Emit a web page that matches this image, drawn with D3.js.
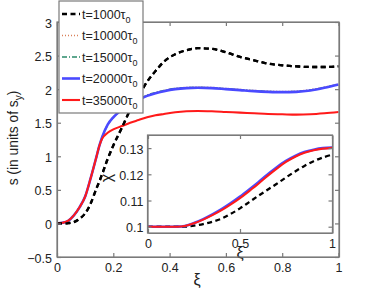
<!DOCTYPE html>
<html><head><meta charset="utf-8">
<script src="https://cdn.jsdelivr.net/npm/d3@7"></script>
<style>
body{margin:0;background:#fff;}
text{font-family:"Liberation Sans",Arial,sans-serif;fill:#222;}
</style></head>
<body><svg id="c" width="374" height="290"></svg>
<script>
// ---- main plot data ----
const xi = [0,0.02,0.04,0.06,0.08,0.1,0.12,0.14,0.15,0.16,0.18,0.2,0.23,0.26,0.29,0.32,0.35,0.38,0.42,0.46,0.5,0.55,0.6,0.65,0.7,0.75,0.8,0.85,0.9,0.95,1];
const s1000  = [0,0,0.005,0.02,0.07,0.15,0.3,0.52,0.62,0.73,0.96,1.16,1.42,1.69,1.9,2.11,2.27,2.41,2.52,2.58,2.61,2.6,2.55,2.48,2.43,2.38,2.355,2.34,2.33,2.33,2.34];
const s10000 = [0,0.01,0.04,0.12,0.24,0.4,0.68,0.99,1.15,1.28,1.47,1.58,1.69,1.78,1.85,1.91,1.95,1.98,2.01,2.025,2.03,2.025,2.01,1.995,1.98,1.97,1.965,1.97,1.99,2.03,2.075];
const s15000 = [0,0.01,0.04,0.12,0.24,0.4,0.68,0.99,1.15,1.28,1.47,1.58,1.69,1.78,1.85,1.91,1.95,1.98,2.01,2.02,2.025,2.02,2.005,1.99,1.975,1.965,1.96,1.965,1.985,2.025,2.07];
const s20000 = [0,0.01,0.04,0.12,0.24,0.4,0.68,0.99,1.15,1.28,1.47,1.58,1.69,1.77,1.84,1.9,1.94,1.97,2.0,2.015,2.02,2.015,2.0,1.985,1.97,1.96,1.955,1.96,1.98,2.02,2.07];
const s35000 = [0,0.01,0.04,0.12,0.24,0.4,0.68,0.99,1.15,1.26,1.35,1.4,1.45,1.5,1.54,1.58,1.61,1.63,1.655,1.67,1.675,1.67,1.66,1.65,1.64,1.63,1.625,1.62,1.625,1.64,1.66];
const xTicks = [0,0.2,0.4,0.6,0.8,1];
const yTicks = [-0.5,0,0.5,1,1.5,2,2.5,3];
const legendLabels = ["t=1000","t=10000","t=15000","t=20000","t=35000"];

// ---- inset data ----
const xiIn = [0,0.1,0.15,0.2,0.25,0.3,0.35,0.4,0.45,0.5,0.55,0.6,0.65,0.7,0.75,0.8,0.85,0.9,0.95,1];
const chi1000  = [0.1,0.1,0.1,0.1,0.1004,0.101,0.1019,0.1031,0.1049,0.107,0.1094,0.1118,0.1141,0.1164,0.1188,0.1211,0.1232,0.125,0.1264,0.1275];
const chi20000 = [0.1,0.1,0.1,0.1003,0.1014,0.1029,0.1047,0.1067,0.109,0.1115,0.1142,0.117,0.1199,0.1227,0.1251,0.127,0.1285,0.1294,0.13,0.1302];
const chi35000 = [0.1,0.1,0.1,0.1003,0.1013,0.1027,0.1044,0.1063,0.1085,0.1109,0.1136,0.1164,0.1194,0.1222,0.1247,0.1267,0.1282,0.1292,0.1298,0.1301];
const xTicksIn = [0,0.5,1];
const yTicksIn = [0.1,0.11,0.12,0.13];

const svg = d3.select("#c");
const axisCol = "#7a7a7a";
const fmt = v => (v<0?"\u2212":"") + String(Math.abs(v));

// main plot
const L=57,R=339,T=22,B=257;
const x = d3.scaleLinear().domain([0,1]).range([L,R-0.5]);
const y = d3.scaleLinear().domain([-0.5,3]).range([B,T]);

const styles = [
  {data:s10000, col:"#d9805a", w:1.6, dash:"1,2"},
  {data:s15000, col:"#2a8a6a", w:1.6, dash:"5,2,1,2"},
  {data:s1000,  col:"#000",    w:2.3, dash:"5,3.5"},
  {data:s20000, col:"#4a4aff", w:2.6, dash:null},
  {data:s35000, col:"#ff1a1a", w:2.1, dash:null}
];
const line = d3.line().x(d=>x(d[0])).y(d=>y(d[1])).curve(d3.curveMonotoneX);

svg.append("rect").attr("x",L).attr("y",T).attr("width",R-L).attr("height",B-T).attr("fill","#fff");
[styles[2],styles[0],styles[1],styles[3],styles[4]].forEach(s=>{
  svg.append("path").attr("d",line(xi.map((v,i)=>[v,s.data[i]])))
    .attr("fill","none").attr("stroke",s.col).attr("stroke-width",s.w)
    .attr("stroke-dasharray",s.dash);
});
svg.append("path").attr("d",line(xi.map((v,i)=>[v,s1000[i]])))
  .attr("fill","none").attr("stroke","#000").attr("stroke-width",2.3).attr("stroke-dasharray","5,3.5");

// main axes
const gx = svg.append("g").attr("transform",`translate(0,${B})`)
  .call(d3.axisBottom(x).tickValues(xTicks).tickFormat(fmt).tickSizeInner(-4).tickSizeOuter(0).tickPadding(6));
const gxt = svg.append("g").attr("transform",`translate(0,${T})`)
  .call(d3.axisTop(x).tickValues(xTicks).tickFormat("").tickSizeInner(-4).tickSizeOuter(0));
const gy = svg.append("g").attr("transform",`translate(${L},0)`)
  .call(d3.axisLeft(y).tickValues(yTicks).tickFormat(fmt).tickSizeInner(-4).tickSizeOuter(0).tickPadding(5));
const gyr = svg.append("g").attr("transform",`translate(${R},0)`)
  .call(d3.axisRight(y).tickValues(yTicks).tickFormat("").tickSizeInner(-4).tickSizeOuter(0));
[gx,gxt,gy,gyr].forEach(g=>{
  g.selectAll("path,line").attr("stroke",axisCol).attr("stroke-width",1.2);
  g.selectAll("text").attr("font-size",12.5).attr("fill","#222").attr("font-family","Liberation Sans, Arial");
});
gy.selectAll("text").attr("dy","0.4em");

// main axis labels
svg.append("text").attr("x",197).attr("y",285).attr("text-anchor","middle").attr("font-size",16).text("\u03be");
const yl = svg.append("text").attr("transform","translate(17.5,138) rotate(-90)").attr("text-anchor","middle").attr("font-size",13.8);
yl.append("tspan").text("s (in units of s");
yl.append("tspan").attr("font-size",10).attr("dy",4).text("y");
yl.append("tspan").attr("dy",-4).text(")");

// ---- inset ----
const iL=147.5,iR=332.5,iT=135,iB=233;
const xi2 = d3.scaleLinear().domain([0,1]).range([148,332]);
const yi2 = d3.scaleLinear().domain([0.0976,0.135]).range([iB,iT]);
svg.append("rect").attr("x",iL).attr("y",iT).attr("width",iR-iL).attr("height",iB-iT).attr("fill","#fff");
const lineIn = d3.line().x(d=>xi2(d[0])).y(d=>yi2(d[1])).curve(d3.curveCatmullRom.alpha(0.5));
svg.append("path").attr("d",lineIn(xiIn.map((v,i)=>[v,chi1000[i]])))
  .attr("fill","none").attr("stroke","#000").attr("stroke-width",2.3).attr("stroke-dasharray","5,3.5");
svg.append("path").attr("d",lineIn(xiIn.map((v,i)=>[v,chi20000[i]])))
  .attr("fill","none").attr("stroke","#4a4aff").attr("stroke-width",2.6);
svg.append("path").attr("d",lineIn(xiIn.map((v,i)=>[v,chi35000[i]])))
  .attr("fill","none").attr("stroke","#ff1a1a").attr("stroke-width",2.1);

const ix = svg.append("g").attr("transform",`translate(0,${iB})`)
  .call(d3.axisBottom(xi2).tickValues(xTicksIn).tickFormat(d=>String(d)).tickSizeInner(-4).tickSizeOuter(0).tickPadding(6));
const ixt = svg.append("g").attr("transform",`translate(0,${iT})`)
  .call(d3.axisTop(xi2).tickValues(xTicksIn).tickFormat("").tickSizeInner(-4).tickSizeOuter(0));
const iy = svg.append("g").attr("transform",`translate(${iL},0)`)
  .call(d3.axisLeft(yi2).tickValues(yTicksIn).tickFormat(d=>String(+d.toFixed(2))).tickSizeInner(-4).tickSizeOuter(0).tickPadding(4));
const iyr = svg.append("g").attr("transform",`translate(${iR},0)`)
  .call(d3.axisRight(yi2).tickValues(yTicksIn).tickFormat("").tickSizeInner(-4).tickSizeOuter(0));
[ix,ixt,iy,iyr].forEach(g=>{
  g.selectAll("path,line").attr("stroke",axisCol).attr("stroke-width",1.2);
  g.selectAll("text").attr("font-size",12.5).attr("fill","#222").attr("font-family","Liberation Sans, Arial");
});
iy.selectAll("text").attr("dy","0.4em");
svg.append("rect").attr("x",iL).attr("y",iT).attr("width",iR-iL).attr("height",iB-iT)
  .attr("fill","none").attr("stroke",axisCol).attr("stroke-width",1.2);
svg.append("text").attr("x",240).attr("y",258).attr("text-anchor","middle").attr("font-size",16).text("\u03be");
svg.append("text").attr("transform","translate(112,178) rotate(-90)").attr("text-anchor","middle").attr("font-size",16).text("\u03c7");

// main box
svg.append("rect").attr("x",L).attr("y",T).attr("width",R-L).attr("height",B-T)
  .attr("fill","none").attr("stroke",axisCol).attr("stroke-width",1.2);

// ---- legend ----
const lg = svg.append("g");
lg.append("rect").attr("x",59).attr("y",1).attr("width",84).attr("height",112)
  .attr("fill","#fff").attr("stroke",axisCol).attr("stroke-width",1.2);
const legOrder = [styles[2],styles[0],styles[1],styles[3],styles[4]];
legendLabels.forEach((lab,i)=>{
  const yy = 14 + i*21.5;
  const s = legOrder[i];
  lg.append("line").attr("x1",62).attr("x2",80).attr("y1",yy).attr("y2",yy)
    .attr("stroke",s.col).attr("stroke-width",s.w).attr("stroke-dasharray",s.dash);
  const t = lg.append("text").attr("x",82).attr("y",yy+4.5).attr("font-size",12.5);
  t.append("tspan").text(lab+"\u03c4");
  t.append("tspan").attr("font-size",9).attr("dy",4).text("0");
});
</script></body></html>
